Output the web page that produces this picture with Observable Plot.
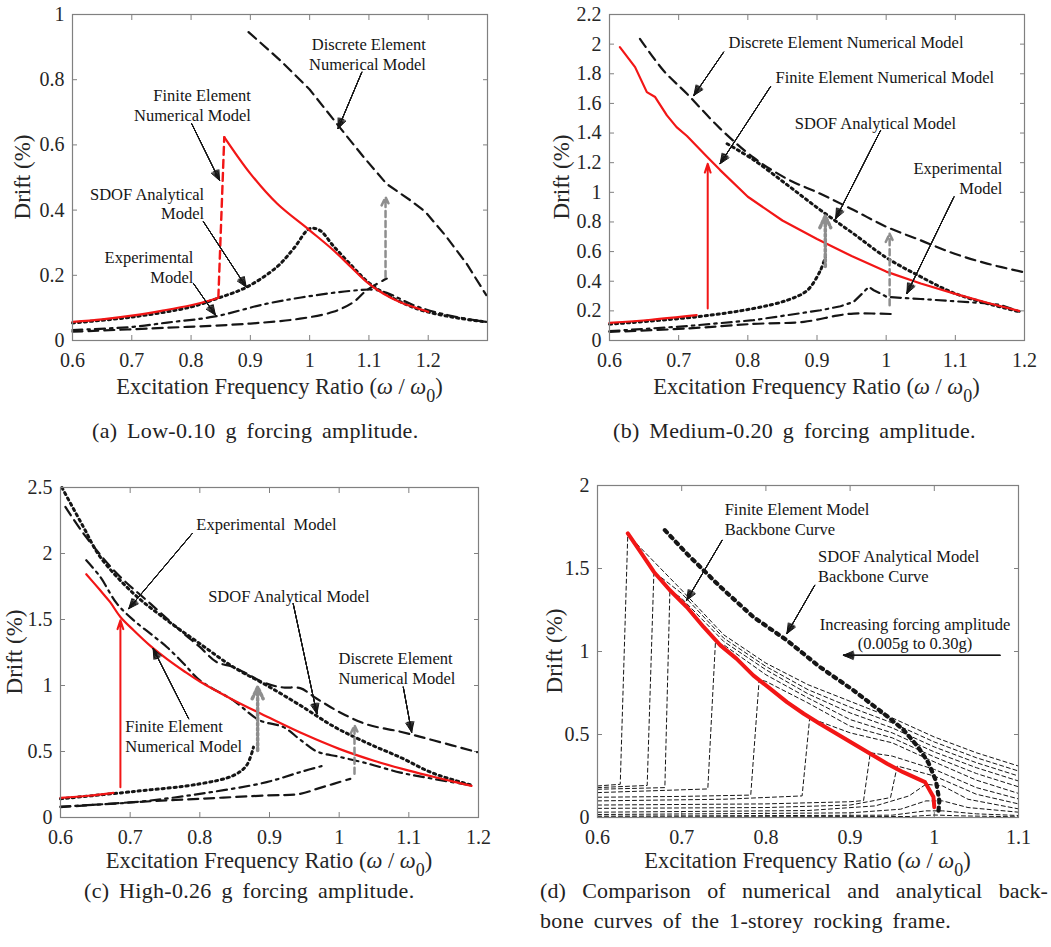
<!DOCTYPE html>
<html><head><meta charset="utf-8">
<script src="https://cdn.jsdelivr.net/npm/d3@7"></script>
<script src="https://cdn.jsdelivr.net/npm/@observablehq/plot@0.6"></script>
<style>
body{margin:0;background:#fff;}
#root{position:relative;width:1051px;height:947px;font-family:"Liberation Serif","Times New Roman",serif;color:#222;overflow:hidden;}
.xlab{position:absolute;font-size:22.5px;line-height:22.5px;white-space:nowrap;transform:translateX(-50%);color:#262626;}
.xlab sub{font-size:80%;line-height:0;vertical-align:-0.45em;}
.ylab{position:absolute;font-size:23px;line-height:23px;white-space:nowrap;transform:translate(-50%,-50%) rotate(-90deg);color:#262626;}
.cap{position:absolute;font-size:22px;line-height:22px;white-space:nowrap;letter-spacing:0.3px;word-spacing:4px;color:#222;}
</style></head><body><div id="root"></div>
<script>
// ---------- Panel (a): Low-0.10 g ----------
const aXDomain = [0.6, 1.3], aYDomain = [0, 1];
const aXTicks = [0.6, 0.7, 0.8, 0.9, 1, 1.1, 1.2];
const aYTicks = [0, 0.2, 0.4, 0.6, 0.8, 1];
const aFeLow = [[0.6,0.057],[0.65,0.065],[0.703,0.077],[0.75,0.091],[0.8,0.108],[0.83,0.122],[0.846,0.131]];
const aFeJump = [[0.846,0.131],[0.856,0.624]];
const aFeUp = [[0.856,0.624],[0.9,0.512],[0.945,0.42],[1.0,0.338],[1.04,0.277],[1.07,0.225],[1.096,0.18],[1.124,0.144],[1.152,0.118],[1.2,0.088]];
const aSdof = [[0.6,0.054],[0.7,0.072],[0.8,0.103],[0.844,0.129],[0.894,0.164],[0.945,0.226],[0.973,0.282],[1.0,0.343],[1.017,0.338],[1.04,0.29],[1.068,0.235],[1.096,0.183],[1.124,0.147],[1.18,0.098],[1.24,0.072],[1.298,0.057]];
const aExp = [[0.6,0.032],[0.703,0.042],[0.76,0.055],[0.838,0.073],[0.928,0.113],[1.0,0.136],[1.068,0.152],[1.107,0.156],[1.13,0.146],[1.18,0.105],[1.24,0.075],[1.298,0.057]];
const aDemLow = [[0.6,0.027],[0.759,0.039],[0.9,0.052],[0.984,0.067],[1.04,0.088],[1.074,0.118],[1.096,0.154],[1.13,0.19]];
const aDemUp = [[0.897,0.946],[0.95,0.86],[1.0,0.77],[1.048,0.66],[1.09,0.565],[1.13,0.48],[1.17,0.43],[1.195,0.395],[1.23,0.32],[1.265,0.235],[1.298,0.139]];
const aGrayDash = [[1.128,0.195,1.128,0.44]];
const aPointers = [[1.088,0.823,1.048,0.65],[0.801,0.665,0.848,0.491],[0.821,0.364,0.893,0.164],[0.804,0.175,0.841,0.078]];
const aLabels = [
  {x:1.196, y:0.879, text:"Discrete Element\nNumerical Model", anchor:"end"},
  {x:0.901, y:0.723, text:"Finite Element\nNumerical Model", anchor:"end"},
  {x:0.822, y:0.421, text:"SDOF Analytical\nModel", anchor:"end"},
  {x:0.804, y:0.227, text:"Experimental\nModel", anchor:"end"}
];

// ---------- Panel (b): Medium-0.20 g ----------
const bXDomain = [0.6, 1.2], bYDomain = [0, 2.2];
const bXTicks = [0.6, 0.7, 0.8, 0.9, 1, 1.1, 1.2];
const bYTicks = [0, 0.2, 0.4, 0.6, 0.8, 1, 1.2, 1.4, 1.6, 1.8, 2, 2.2];
const bFeUp = [[0.615,1.98],[0.637,1.845],[0.654,1.676],[0.666,1.643],[0.683,1.519],[0.697,1.44],[0.712,1.38],[0.741,1.24],[0.76,1.15],[0.8,0.97],[0.85,0.81],[0.9,0.685],[0.95,0.57],[1.0,0.465],[1.05,0.385],[1.1,0.315],[1.15,0.25],[1.192,0.2]];
const bFeLow = [[0.6,0.119],[0.66,0.14],[0.726,0.171]];
const bRedArrow = [[0.742,0.216,0.742,1.193]];
const bSdofLow = [[0.6,0.11],[0.726,0.16],[0.808,0.216],[0.857,0.272],[0.886,0.339],[0.905,0.474],[0.912,0.564]];
const bSdofUp = [[0.77,1.328],[0.808,1.22],[0.857,1.05],[0.905,0.88],[0.953,0.72],[1.0,0.56],[1.05,0.43],[1.098,0.32],[1.146,0.25],[1.194,0.193]];
const bDemUp = [[0.644,2.036],[0.678,1.822],[0.712,1.665],[0.76,1.43],[0.808,1.235],[0.857,1.09],[0.905,0.99],[0.953,0.88],[1.001,0.766],[1.05,0.676],[1.098,0.587],[1.146,0.519],[1.197,0.463]];
const bDemLow = [[0.6,0.058],[0.712,0.081],[0.808,0.112],[0.881,0.126],[0.929,0.168],[0.953,0.182],[1.011,0.178]];
const bExp = [[0.6,0.063],[0.712,0.097],[0.808,0.137],[0.905,0.204],[0.934,0.231],[0.953,0.261],[0.963,0.306],[0.975,0.362],[0.982,0.339],[0.992,0.317],[1.001,0.294],[1.05,0.28],[1.098,0.265],[1.146,0.25],[1.165,0.24],[1.194,0.193]];
const bGrayDot = [[0.912,0.5,0.912,0.84]];
const bGrayDash = [[1.005,0.238,1.005,0.721]];
const bPointers = [[0.765,1.946,0.722,1.654],[0.833,1.715,0.76,1.193],[0.992,1.418,0.927,0.822],[1.098,0.969,1.03,0.317]];
const bLabels = [
  {x:0.772, y:2.02, text:"Discrete Element Numerical Model", anchor:"start"},
  {x:0.84, y:1.778, text:"Finite Element Numerical Model", anchor:"start"},
  {x:0.868, y:1.467, text:"SDOF Analytical Model", anchor:"start"},
  {x:1.168, y:1.101, text:"Experimental\nModel", anchor:"end"}
];

// ---------- Panel (c): High-0.26 g ----------
const cXDomain = [0.6, 1.2], cYDomain = [0, 2.5];
const cXTicks = [0.6, 0.7, 0.8, 0.9, 1, 1.1, 1.2];
const cYTicks = [0, 0.5, 1, 1.5, 2, 2.5];
const cFeLow = [[0.6,0.149],[0.64,0.165],[0.676,0.187]];
const cRedArrow = [[0.686,0.23,0.686,1.494]];
const cFeUp = [[0.637,1.843],[0.657,1.721],[0.671,1.633],[0.686,1.519],[0.705,1.418],[0.729,1.3],[0.753,1.2],[0.777,1.11],[0.8,1.03],[0.85,0.885],[0.9,0.755],[0.95,0.63],[1.0,0.52],[1.05,0.43],[1.1,0.355],[1.15,0.29],[1.19,0.24]];
const cSdofUp = [[0.602,2.5],[0.633,2.2],[0.657,1.974],[0.705,1.696],[0.753,1.494],[0.8,1.317],[0.848,1.14],[0.896,1.001],[0.944,0.85],[0.992,0.69],[1.04,0.565],[1.088,0.455],[1.135,0.335],[1.19,0.245]];
const cSdofLow = [[0.6,0.142],[0.705,0.197],[0.8,0.255],[0.848,0.318],[0.867,0.394],[0.877,0.533]];
const cDemUp = [[0.607,2.353],[0.633,2.151],[0.681,1.848],[0.729,1.62],[0.777,1.393],[0.8,1.292],[0.824,1.178],[0.848,1.14],[0.896,1.014],[0.92,0.985],[0.944,0.98],[0.968,0.9],[1.0,0.8],[1.04,0.705],[1.088,0.65],[1.135,0.585],[1.198,0.495]];
const cDemLow = [[0.6,0.078],[0.705,0.116],[0.8,0.142],[0.896,0.167],[0.944,0.179],[0.968,0.217],[0.992,0.255],[1.016,0.293]];
const cExpUp = [[0.637,1.949],[0.657,1.823],[0.681,1.62],[0.705,1.494],[0.729,1.393],[0.753,1.29],[0.777,1.165],[0.8,1.039],[0.848,0.887],[0.886,0.736],[0.92,0.685],[0.944,0.59],[0.968,0.5],[1.0,0.46],[1.04,0.41],[1.088,0.34],[1.135,0.293],[1.19,0.243]];
const cExpLow = [[0.6,0.083],[0.705,0.116],[0.8,0.179],[0.896,0.268],[0.944,0.344],[0.978,0.394]];
const cGrayDot = [[0.883,0.508,0.883,0.988]];
const cGrayDash = [[1.022,0.331,1.022,0.698]];
const cPointers = [[0.789,2.151,0.698,1.582],[0.934,1.62,0.968,0.786],[1.092,0.988,1.104,0.647],[0.784,0.748,0.733,1.279]];
const cLabels = [
  {x:0.795, y:2.227, text:"Experimental  Model", anchor:"start"},
  {x:0.812, y:1.683, text:"SDOF Analytical Model", anchor:"start"},
  {x:0.999, y:1.135, text:"Discrete Element\nNumerical Model", anchor:"start"},
  {x:0.693, y:0.622, text:"Finite Element\nNumerical Model", anchor:"start"}
];

// ---------- Panel (d): backbone curves ----------
const dXDomain = [0.6, 1.1], dYDomain = [0, 2];
const dXTicks = [0.6, 0.7, 0.8, 0.9, 1, 1.1];
const dYTicks = [0, 0.5, 1, 1.5, 2];
const dC1 = [[0.6,0.19],[0.627,0.2],[0.636,1.711],[0.65,1.63],[0.7,1.37],[0.75,1.10],[0.8,0.93],[0.85,0.80],[0.9,0.70],[0.95,0.60],[1.0,0.485],[1.05,0.39],[1.1,0.31]];
const dC2 = [[0.6,0.18],[0.659,0.193],[0.667,1.48],[0.7,1.35],[0.75,1.08],[0.8,0.91],[0.85,0.77],[0.9,0.665],[0.95,0.57],[1.0,0.455],[1.05,0.36],[1.1,0.28]];
const dC3 = [[0.6,0.17],[0.68,0.18],[0.686,1.37],[0.7,1.32],[0.75,1.06],[0.8,0.89],[0.85,0.745],[0.9,0.63],[0.95,0.54],[1.0,0.425],[1.05,0.33],[1.1,0.25]];
const dC4 = [[0.6,0.15],[0.731,0.172],[0.74,1.05],[0.75,1.04],[0.8,0.86],[0.85,0.72],[0.9,0.59],[0.95,0.51],[1.0,0.395],[1.05,0.3],[1.1,0.22]];
const dC5 = [[0.6,0.122],[0.7,0.127],[0.782,0.135],[0.792,0.83],[0.8,0.82],[0.85,0.69],[0.9,0.55],[0.95,0.48],[1.0,0.365],[1.05,0.265],[1.1,0.185]];
const dC6 = [[0.6,0.1],[0.75,0.11],[0.843,0.13],[0.852,0.6],[0.9,0.51],[0.95,0.45],[1.0,0.335],[1.05,0.225],[1.1,0.145]];
const dC7 = [[0.6,0.075],[0.8,0.082],[0.9,0.095],[0.916,0.102],[0.924,0.39],[0.95,0.37],[1.0,0.29],[1.05,0.18],[1.1,0.112]];
const dC8 = [[0.6,0.055],[0.8,0.06],[0.9,0.075],[0.948,0.12],[0.956,0.31],[1.0,0.25],[1.05,0.14],[1.1,0.082]];
const dC9 = [[0.6,0.032],[0.85,0.042],[0.93,0.07],[0.97,0.13],[0.99,0.2],[1.01,0.19],[1.04,0.11],[1.1,0.052]];
const dC10 = [[0.6,0.018],[0.9,0.028],[0.96,0.05],[0.99,0.1],[1.01,0.1],[1.04,0.06],[1.1,0.032]];
const dC11 = [[0.6,0.008],[0.95,0.014],[0.99,0.04],[1.01,0.04],[1.05,0.022],[1.1,0.012]];
const dC12 = [[0.6,0.003],[0.97,0.006],[1.0,0.015],[1.03,0.01],[1.1,0.004]];
const dFeBackbone = [[0.636,1.711],[0.651,1.6],[0.667,1.479],[0.686,1.369],[0.706,1.268],[0.726,1.148],[0.746,1.037],[0.765,0.957],[0.785,0.856],[0.805,0.776],[0.825,0.695],[0.845,0.625],[0.864,0.565],[0.884,0.505],[0.904,0.444],[0.924,0.384],[0.944,0.324],[0.963,0.273],[0.989,0.213],[0.999,0.123],[1.0,0.062]];
const dSdofBackbone = [[0.68,1.731],[0.706,1.59],[0.746,1.389],[0.785,1.208],[0.825,1.067],[0.864,0.907],[0.904,0.766],[0.944,0.61],[0.963,0.53],[0.98,0.43],[0.993,0.33],[1.002,0.22],[1.006,0.1],[1.005,0.04]];
const dPointers = [[0.748,1.67,0.706,1.309],[0.858,1.399,0.825,1.108],[1.078,0.977,0.892,0.977]];
const dLabels = [
  {x:0.751, y:1.798, text:"Finite Element Model\nBackbone Curve", anchor:"start"},
  {x:0.862, y:1.517, text:"SDOF Analytical Model\nBackbone Curve", anchor:"start"},
  {x:0.977, y:1.11, text:"Increasing forcing amplitude\n(0.005g to 0.30g)", anchor:"middle"}
];

// ---------- styles ----------
const FONT = '"Liberation Serif", "Times New Roman", serif';
const RED = "#f21616", INK = "#151515", GRAY = "#8e8e8e", AXIS = "#808080";
const SOLID = {stroke: RED, strokeWidth: 2.2};
const DOT = {stroke: INK, strokeWidth: 3, strokeDasharray: "2.2,3.8"};
const DASH = {stroke: INK, strokeWidth: 2.2, strokeDasharray: "10,6"};
const DASHDOT = {stroke: INK, strokeWidth: 2.2, strokeDasharray: "10,5,2.5,5"};

const line = (data, style, curve = "catmull-rom") =>
  Plot.line(data, {x: d => d[0], y: d => d[1], curve, ...style});
const seg = {x1: d => d[0], y1: d => d[1], x2: d => d[2], y2: d => d[3]};
const pointers = (data) => [46, 36, 26, 16, 6].map(a =>
  Plot.arrow(data, {...seg, stroke: INK, strokeWidth: 1, headAngle: a, headLength: 16}));
const grayArrow = (data, dash, sw) =>
  Plot.arrow(data, {...seg, stroke: GRAY, strokeWidth: sw, strokeDasharray: dash, headAngle: 50, headLength: 5.5});
const redArrow = (data) =>
  Plot.arrow(data, {...seg, stroke: RED, strokeWidth: 2, headAngle: 36, headLength: 7});
const labels = (list) => list.map(l =>
  Plot.text([l], {x: "x", y: "y", text: "text", textAnchor: l.anchor, lineAnchor: "middle",
    fontSize: 16.5, fontFamily: FONT, lineHeight: 1.2, fill: INK}));

const root = document.getElementById("root");
const fmt = d => String(d);
const blank = () => "";

function panel(p) {
  const svg = Plot.plot({
    width: p.w, height: p.h,
    marginLeft: p.m[0], marginRight: p.m[1], marginTop: p.m[2], marginBottom: p.m[3],
    x: {domain: p.xd, label: null},
    y: {domain: p.yd, label: null},
    style: 'font-family: "Liberation Serif", "Times New Roman", serif; font-size: 20px; color: #262626; background: transparent; overflow: visible;',
    marks: [
      Plot.axisX({ticks: p.xt, anchor: "bottom", tickSize: -5, tickPadding: 17, tickFormat: fmt, label: null, stroke: AXIS, fontSize: 20, fontFamily: FONT}),
      Plot.axisX({ticks: p.xt, anchor: "top", tickSize: -5, tickFormat: blank, label: null, stroke: AXIS}),
      Plot.axisY({ticks: p.yt, anchor: "left", tickSize: -5, tickPadding: 13, tickFormat: fmt, label: null, stroke: AXIS, fontSize: 20, fontFamily: FONT}),
      Plot.axisY({ticks: p.yt, anchor: "right", tickSize: -5, tickFormat: blank, label: null, stroke: AXIS}),
      ...p.marks,
      Plot.frame({stroke: AXIS, strokeWidth: 1.2})
    ]
  });
  svg.style.position = "absolute";
  svg.style.left = p.left + "px";
  svg.style.top = p.top + "px";
  root.appendChild(svg);
}

panel({left: 0, top: 0, w: 520, h: 400, m: [72, 33, 14, 60], xd: aXDomain, yd: aYDomain, xt: aXTicks, yt: aYTicks,
  marks: [
    line(aDemLow, DASH), line(aDemUp, DASH, "linear"),
    line(aExp, DASHDOT),
    line(aSdof, DOT),
    line(aFeLow, SOLID), line(aFeJump, {stroke: RED, strokeWidth: 2.4, strokeDasharray: "8,5"}, "linear"), line(aFeUp, SOLID),
    grayArrow(aGrayDash, "6,4", 2.5),
    ...pointers(aPointers), ...labels(aLabels)
  ]});

panel({left: 520, top: 0, w: 531, h: 400, m: [89, 27, 14, 60], xd: bXDomain, yd: bYDomain, xt: bXTicks, yt: bYTicks,
  marks: [
    line(bDemLow, DASH), line(bDemUp, DASH),
    line(bExp, DASHDOT, "linear"),
    line(bSdofLow, DOT), line(bSdofUp, DOT),
    line(bFeLow, SOLID), line(bFeUp, SOLID, "linear"),
    redArrow(bRedArrow),
    grayArrow(bGrayDot, "2.5,2.5", 3.5), grayArrow(bGrayDash, "6,4", 2.5),
    ...pointers(bPointers), ...labels(bLabels)
  ]});

panel({left: 0, top: 470, w: 520, h: 400, m: [60, 42, 17, 53], xd: cXDomain, yd: cYDomain, xt: cXTicks, yt: cYTicks,
  marks: [
    line(cDemLow, DASH), line(cDemUp, DASH),
    line(cExpLow, DASHDOT), line(cExpUp, DASHDOT),
    line(cSdofLow, DOT), line(cSdofUp, DOT),
    line(cFeLow, SOLID), line(cFeUp, SOLID),
    redArrow(cRedArrow),
    grayArrow(cGrayDot, "2.5,2.5", 3.5), grayArrow(cGrayDash, "6,4", 2.5),
    ...pointers(cPointers), ...labels(cLabels)
  ]});

const THIN = {stroke: INK, strokeWidth: 1, strokeDasharray: "4,3"};
panel({left: 520, top: 470, w: 531, h: 400, m: [77, 33, 15, 53], xd: dXDomain, yd: dYDomain, xt: dXTicks, yt: dYTicks,
  marks: [
    ...[dC1, dC2, dC3, dC4, dC5, dC6, dC7, dC8, dC9, dC10, dC11, dC12].map(c => line(c, THIN, "linear")),
    line(dSdofBackbone, {stroke: INK, strokeWidth: 4.2, strokeDasharray: "3,5"}, "linear"),
    line(dFeBackbone, {stroke: RED, strokeWidth: 4}, "linear"),
    ...pointers(dPointers), ...labels(dLabels)
  ]});

// ---------- HTML axis titles & captions ----------
const xTitle = 'Excitation Frequency Ratio (<i>ω</i> / <i>ω</i><sub>0</sub>)';
const xTitlePos = [[279.5, 376], [816.5, 376], [269, 850], [807.5, 850]];
xTitlePos.forEach(([x, t]) => {
  const d = document.createElement("div"); d.className = "xlab";
  d.style.left = x + "px"; d.style.top = t + "px"; d.innerHTML = xTitle; root.appendChild(d);
});
const yTitlePos = [[21.5, 177], [561, 177], [14, 652], [554, 651]];
yTitlePos.forEach(([x, y]) => {
  const d = document.createElement("div"); d.className = "ylab";
  d.style.left = x + "px"; d.style.top = y + "px"; d.textContent = "Drift (%)"; root.appendChild(d);
});
const captions = [
  {x: 92, y: 420, text: "(a) Low-0.10 g forcing amplitude."},
  {x: 613, y: 420, text: "(b) Medium-0.20 g forcing amplitude."},
  {x: 84, y: 880, text: "(c) High-0.26 g forcing amplitude."},
  {x: 540, y: 880, text: "(d) Comparison of numerical and analytical back-", w: 508},
  {x: 540, y: 910, text: "bone curves of the 1-storey rocking frame."}
];
captions.forEach(c => {
  const d = document.createElement("div"); d.className = "cap";
  d.style.left = c.x + "px"; d.style.top = c.y + "px"; d.textContent = c.text;
  if (c.w) { d.style.width = c.w + "px"; d.style.textAlign = "justify"; d.style.textAlignLast = "justify"; d.style.whiteSpace = "normal"; d.style.letterSpacing = "0.1px"; }
  root.appendChild(d);
});
</script>
</body></html>
